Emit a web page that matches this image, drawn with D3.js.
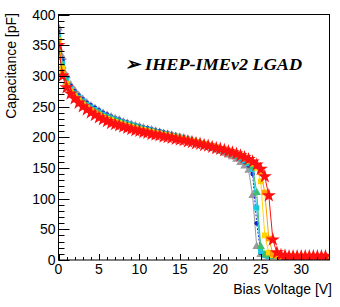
<!DOCTYPE html>
<html><head><meta charset="utf-8">
<script src="https://cdn.jsdelivr.net/npm/d3@7"></script>
<style>
html,body{margin:0;padding:0;background:#fff;}
svg{display:block;}
text{font-family:"Liberation Sans",Arial,Helvetica,sans-serif;}
</style></head>
<body>
<svg id="chart" width="340" height="307"></svg>
<script>
// ---- data ----
const voltages = [0,0.5,1,1.5,2,2.5,3,3.5,4,4.5,5,5.5,6,6.5,7,7.5,8,8.5,9,9.5,10,10.5,11,11.5,12,12.5,13,13.5,14,14.5,15,15.5,16,16.5,17,17.5,18,18.5,19,19.5,20,20.5,21,21.5,22,22.5,23,23.5,24,24.5,25,25.5,26,26.5,27,27.5,28,28.5,29,29.5,30,30.5,31,31.5,32,32.5,33];

const capGray   = [378,330,300,285,276,268,262,256,251,247,243,239,236,233,230,228,225,223,221,219,217,215,213,212,210,208,206,205,203,201,199,197,195,193,191,189,187,184,182,179,177,174,171,168,164,159,153,146,105,22,9,7,6,6,6,5,5,5,5,5,5,5,5,5,5,5,5];
const capBlue   = [372,325,297,284,275,268,262,256,252,248,244,240,237,234,231,229,226,224,222,220,218,216,215,213,211,210,208,206,205,203,201,200,198,196,194,192,190,188,186,183,181,178,176,173,169,165,160,154,140,60,12,8,6,6,6,6,5,5,5,5,5,5,5,5,5,5,5];
const capCyan   = [366,320,293,280,272,265,259,253,249,245,241,237,234,231,229,226,224,222,220,218,216,214,213,211,209,208,206,205,203,202,200,198,197,195,193,191,189,187,185,183,181,178,176,173,170,166,162,157,148,85,14,8,6,6,6,6,6,5,5,5,5,5,5,5,5,5,5];
const capGreen  = [362,316,290,277,269,262,256,251,246,242,239,235,232,230,227,225,223,220,219,217,215,213,211,210,208,207,205,204,202,201,199,198,196,194,193,191,189,187,185,183,181,179,177,174,171,168,164,159,152,110,22,9,7,6,6,6,6,6,5,5,5,5,5,5,5,5,5];
const capYellow = [358,312,287,275,267,260,254,249,244,240,237,233,230,228,225,223,221,219,217,215,213,212,210,209,207,206,204,203,201,200,198,197,195,194,192,190,189,187,185,183,181,179,177,175,172,169,166,162,157,150,128,40,12,8,7,6,6,6,6,6,6,6,6,6,6,6,6];
const capOrange = [354,306,284,273,265,258,252,247,242,238,234,231,228,225,223,221,219,217,215,213,211,210,208,207,205,204,202,201,200,198,197,195,194,193,191,189,188,186,184,183,181,179,177,175,172,170,167,163,159,153,144,110,35,10,7,7,6,6,6,6,6,6,6,6,6,6,6];
const capRed    = [350,300,281,271,263,256,250,245,240,236,232,229,226,223,221,219,217,215,213,211,210,208,207,205,204,203,201,200,199,197,196,195,193,192,190,189,187,186,184,182,181,179,177,175,173,170,167,164,160,155,148,136,105,33,12,8,7,6,6,6,6,6,6,6,6,6,6];

const seriesNames   = ["gray","blue","cyan","green","yellow","orange","red"];
const seriesValues  = [capGray,capBlue,capCyan,capGreen,capYellow,capOrange,capRed];
const seriesColors  = ["#9a9a9a","#1020d8","#18c8e8","#3cc070","#ffd400","#ffa000","#ff1010"];
const seriesSymbols = [d3.symbolTriangle,d3.symbolCircle,d3.symbolSquare,d3.symbolTriangle,d3.symbolSquare,d3.symbolSquare,d3.symbolStar];
const seriesSizes   = [32,16,28,30,32,32,62];

const xTicks = [0,5,10,15,20,25,30];
const yTicks = [0,50,100,150,200,250,300,350,400];
const titleText = "\u27A2 IHEP-IMEv2 LGAD";
const xTitle = "Bias Voltage [V]";
const yTitle = "Capacitance [pF]";

// ---- layout ----
const L = 58.5, R = 329.5, T = 14.5, B = 260;
const svg = d3.select("#chart");
const x = d3.scaleLinear().domain([0,33.5]).range([L,R]);
const y = d3.scaleLinear().domain([0,400]).range([B,T]);

// series
svg.append("clipPath").attr("id","clp").append("rect")
  .attr("x",L).attr("y",T).attr("width",R-L).attr("height",B-T);
const g = svg.append("g").attr("clip-path","url(#clp)");
seriesValues.forEach((vals,i)=>{
  const pts = voltages.map((v,j)=>[v,vals[j]]);
  const line = d3.line().x(d=>x(d[0])).y(d=>y(d[1]));
  g.append("path").attr("d",line(pts)).attr("fill","none")
    .attr("stroke",seriesColors[i]).attr("stroke-width",1)
    .attr("stroke-dasharray", i===1 ? "2,1.5" : null);
  const sym = d3.symbol().type(seriesSymbols[i]).size(seriesSizes[i]);
  g.selectAll(null).data(pts).enter().append("path")
    .attr("d",sym)
    .attr("transform",d=>`translate(${x(d[0])},${y(d[1])})`)
    .attr("fill",seriesColors[i]);
});

// frame
svg.append("rect").attr("x",L).attr("y",T).attr("width",R-L).attr("height",B-T)
  .attr("fill","none").attr("stroke","#000").attr("stroke-width",1);

// y axis ticks (inside)
const yMinor = d3.range(0,401,10);
svg.append("g").selectAll("line").data(yMinor).enter().append("line")
  .attr("x1",L).attr("x2",d=>L+(d%50===0?11:6))
  .attr("y1",d=>Math.round(y(d))+0.5).attr("y2",d=>Math.round(y(d))+0.5)
  .attr("stroke","#000").attr("stroke-width",1);
svg.append("g").selectAll("text").data(yTicks).enter().append("text")
  .attr("x",L-3).attr("y",d=>y(d)+5).attr("text-anchor","end")
  .attr("font-size",14).attr("fill","#000").text(d=>d);

// x axis ticks (inside)
const xMinor = d3.range(0,34,1);
svg.append("g").selectAll("line").data(xMinor).enter().append("line")
  .attr("x1",d=>Math.round(x(d))+0.5).attr("x2",d=>Math.round(x(d))+0.5)
  .attr("y1",B).attr("y2",d=>B-(d%5===0?6:3))
  .attr("stroke","#000").attr("stroke-width",1);
svg.append("g").selectAll("text").data(xTicks).enter().append("text")
  .attr("x",d=>x(d)).attr("y",274).attr("text-anchor","middle")
  .attr("font-size",14).attr("fill","#000").text(d=>d);

// titles
svg.append("text").attr("x",332).attr("y",294).attr("text-anchor","end")
  .attr("font-size",14).attr("fill","#000").text(xTitle);
svg.append("text").attr("transform","translate(15.5,13) rotate(-90)")
  .attr("text-anchor","end").attr("font-size",14).attr("fill","#000").text(yTitle);

svg.append("text").attr("x",125).attr("y",70)
  .attr("textLength",177).attr("lengthAdjust","spacingAndGlyphs")
  .style("font-family","'Liberation Serif','Times New Roman',serif")
  .attr("font-weight","bold").attr("font-style","italic")
  .attr("font-size",17.5).attr("fill","#000").text(titleText);
</script>
</body></html>
